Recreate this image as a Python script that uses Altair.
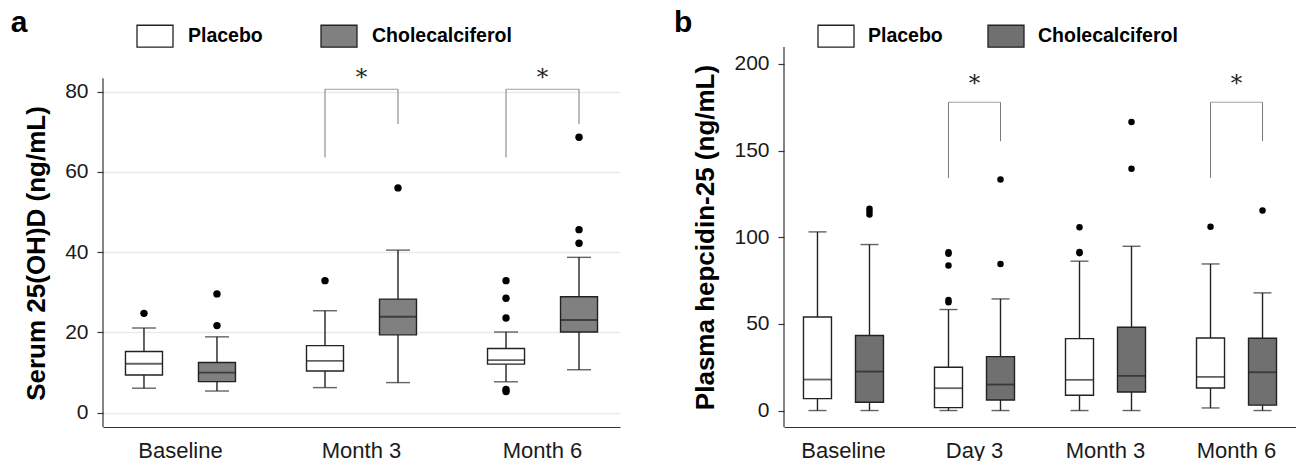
import altair as alt
import pandas as pd

groups = ["Placebo", "Cholecalciferol"]

# ---------------- Panel a : Serum 25(OH)D ----------------
a_times = ["Baseline", "Month 3", "Month 6"]
a_plc_lo = [6.1, 6.25, 7.7]
a_plc_q1 = [9.4, 10.4, 12.1]
a_plc_med = [12.2, 12.9, 13.1]
a_plc_q3 = [15.25, 16.7, 16.0]
a_plc_hi = [21.1, 25.4, 20.1]
a_cho_lo = [5.4, 7.5, 10.7]
a_cho_q1 = [7.75, 19.4, 20.1]
a_cho_med = [10.0, 23.9, 23.1]
a_cho_q3 = [12.5, 28.3, 28.9]
a_cho_hi = [18.9, 40.5, 38.7]
a_plc_out = [[24.75], [32.9], [32.9, 28.5, 23.6, 5.8, 5.3]]
a_cho_out = [[29.6, 21.7], [56.0], [68.6, 45.6, 42.2]]
a_sig = ["Month 3", "Month 6"]
a_sig_top = 80.6
a_sig_left = 63.6
a_sig_right = 71.9
a_star = 83.4
a_axis_span = [-3.56, 83.3]

# ---------------- Panel b : Plasma hepcidin-25 ----------------
b_times = ["Baseline", "Day 3", "Month 3", "Month 6"]
b_plc_lo = [0.0, 0.0, 0.0, 1.5]
b_plc_q1 = [6.9, 1.7, 8.8, 13.0]
b_plc_med = [17.9, 12.9, 17.7, 19.4]
b_plc_q3 = [54.0, 25.0, 41.5, 41.9]
b_plc_hi = [103.1, 58.3, 86.2, 84.6]
b_cho_lo = [0.0, 0.0, 0.0, 0.0]
b_cho_q1 = [4.8, 6.1, 10.7, 3.1]
b_cho_med = [22.5, 15.0, 20.0, 22.1]
b_cho_q3 = [43.3, 31.1, 48.1, 41.7]
b_cho_hi = [95.8, 64.4, 94.8, 67.9]
b_plc_out = [[], [91.3, 90.5, 83.7, 63.8, 62.5], [105.8, 91.5, 90.8], [106.0]]
b_cho_out = [[116.5, 114.8, 113.1], [133.3, 84.6], [166.5, 139.6], [115.4]]
b_sig = ["Day 3", "Month 6"]
b_sig_top = 177.9
b_sig_left = 134.2
b_sig_right = 155.4
b_star = 188.3
b_axis_span = [-9.5, 209.8]

FONT = "Liberation Sans"
INK = "#222222"


def build_panel(letter, times, plc, cho, plc_out, cho_out, sig, sig_top, sig_left,
                sig_right, star, ydomain, axis_span, yticks, ytitle, width, height, fill2,
                box_w, cap_w, step2, pad_in, pad_out, pad2_in, pad2_out,
                grid, leg_x, leg_y, col_pad, lab_off, pt_size, title_dx, title_dy, title_pad,
                extra_axis=None):
    rows = []
    for g, s in zip(groups, [plc, cho]):
        for i, t in enumerate(times):
            rows.append(dict(time=t, group=g, lo=s[0][i], q1=s[1][i], med=s[2][i],
                             q3=s[3][i], hi=s[4][i]))
    box_df = pd.DataFrame(rows)
    orows = []
    for g, outs in zip(groups, [plc_out, cho_out]):
        for t, vals in zip(times, outs):
            for v in vals:
                orows.append(dict(time=t, group=g, v=v))
    out_df = pd.DataFrame(orows)
    leg_rows = []
    for t in sig:
        leg_rows.append(dict(time=t, group=groups[0], y=sig_left, y2=sig_top))
        leg_rows.append(dict(time=t, group=groups[1], y=sig_right, y2=sig_top))
    leg_df = pd.DataFrame(leg_rows)
    top_df = pd.DataFrame(dict(time=sig, y=[sig_top] * len(sig), star=[star] * len(sig),
                               s=["*"] * len(sig)))
    span_df = pd.DataFrame(dict(lo=[axis_span[0]], hi=[axis_span[1]]))

    xscale = alt.Scale(domain=times, paddingInner=pad_in, paddingOuter=pad_out)
    xoff = alt.XOffset("group:N", sort=groups,
                       scale=alt.Scale(domain=groups, paddingInner=pad2_in, paddingOuter=pad2_out))
    xenc = alt.X("time:N", sort=times, scale=xscale, title=None,
                 axis=alt.Axis(labelFont=FONT, labelFontSize=22, labelColor="#1a1a1a",
                               labelAngle=0, ticks=False, labelPadding=13,
                               domainColor="#333333", domainWidth=1.2, grid=False))
    yscale = alt.Scale(domain=ydomain, nice=False, zero=False)
    axis_kw = dict(values=yticks, labelFont=FONT, labelFontSize=21, labelColor="#1a1a1a",
                   tickColor="#333333", tickSize=6, tickWidth=1.2, labelPadding=9,
                   domain=False, grid=grid,
                   gridColor="#ebebeb", gridWidth=1.5,
                   title=ytitle, titleFont=FONT, titleFontSize=26, titleFontWeight="bold",
                   titleColor="black", titlePadding=title_pad)
    if extra_axis:
        axis_kw.update(extra_axis)
    yaxis = alt.Axis(**axis_kw)

    base = alt.Chart(box_df).encode(x=xenc, xOffset=xoff)
    whisk_lo = base.mark_rule(color=INK, strokeWidth=1.4).encode(
        y=alt.Y("lo:Q", scale=yscale, axis=yaxis), y2="q1:Q")
    whisk_hi = base.mark_rule(color=INK, strokeWidth=1.4).encode(y="q3:Q", y2="hi:Q")
    cap_lo = base.mark_tick(color=INK, thickness=1.4, size=cap_w, orient="horizontal").encode(y="lo:Q")
    cap_hi = base.mark_tick(color=INK, thickness=1.4, size=cap_w, orient="horizontal").encode(y="hi:Q")
    boxes = base.mark_bar(size=box_w, stroke=INK, strokeWidth=1.4).encode(
        y="q1:Q", y2="q3:Q",
        fill=alt.Fill("group:N", sort=groups,
                      scale=alt.Scale(domain=groups, range=["white", fill2]),
                      legend=alt.Legend(orient="none", legendX=leg_x, legendY=leg_y,
                                        direction="horizontal", title=None,
                                        symbolType="M-1,-0.61L1,-0.61L1,0.61L-1,0.61Z",
                                        symbolSize=1296, symbolStrokeColor=INK,
                                        symbolStrokeWidth=1.3, symbolOpacity=1,
                                        labelFont=FONT, labelFontSize=19.5, labelFontWeight="bold",
                                        labelColor="black", labelOffset=lab_off,
                                        columnPadding=col_pad, labelLimit=300)))
    meds = base.mark_tick(color=INK, thickness=1.8, size=box_w, orient="horizontal").encode(y="med:Q")
    outs = alt.Chart(out_df).mark_circle(color="black", size=pt_size, opacity=1).encode(
        x=alt.X("time:N", sort=times), xOffset=alt.XOffset("group:N", sort=groups), y="v:Q")
    legs = alt.Chart(leg_df).mark_rule(color="#7a7a7a", strokeWidth=1).encode(
        x=alt.X("time:N", sort=times), xOffset=alt.XOffset("group:N", sort=groups),
        y="y:Q", y2="y2:Q")
    tops = alt.Chart(top_df).mark_tick(color="#7a7a7a", thickness=1, size=step2,
                                       orient="horizontal").encode(
        x=alt.X("time:N", sort=times), y="y:Q")
    stars = alt.Chart(top_df).mark_text(font="DejaVu Serif", fontSize=23, color=INK,
                                        baseline="middle").encode(
        x=alt.X("time:N", sort=times), y="star:Q", text="s:N")
    yline = alt.Chart(span_df).mark_rule(color="#333333", strokeWidth=1.2).encode(
        x=alt.value(0), y="lo:Q", y2="hi:Q")

    return alt.layer(whisk_lo, whisk_hi, cap_lo, cap_hi, boxes, meds, outs, legs, tops,
                     stars, yline).properties(
        width=width, height=height,
        title=alt.TitleParams(letter, anchor="start", font=FONT, fontSize=30, fontWeight="bold",
                              color="black", dx=title_dx, dy=title_dy, offset=0))


panel_a = build_panel("a", a_times,
                      [a_plc_lo, a_plc_q1, a_plc_med, a_plc_q3, a_plc_hi],
                      [a_cho_lo, a_cho_q1, a_cho_med, a_cho_q3, a_cho_hi],
                      a_plc_out, a_cho_out, a_sig, a_sig_top, a_sig_left, a_sig_right, a_star,
                      [-3.56, 91.1], a_axis_span, [0, 20, 40, 60, 80], "Serum 25(OH)D (ng/mL)",
                      517, 380, "#808080", 37, 24, 73, 0.2, 0.028, 0.1, 0.042,
                      True, 33, -30, 55, 14, 55, -13, 21, 15,
                      extra_axis={"titleY": 206})

panel_b = build_panel("b", b_times,
                      [b_plc_lo, b_plc_q1, b_plc_med, b_plc_q3, b_plc_hi],
                      [b_cho_lo, b_cho_q1, b_cho_med, b_cho_q3, b_cho_hi],
                      b_plc_out, b_cho_out, b_sig, b_sig_top, b_sig_left, b_sig_right, b_star,
                      [-9.5, 209.8], b_axis_span, [0, 50, 100, 150, 200],
                      "Plasma hepcidin-25 (ng/mL)",
                      512, 380, "#707070", 28, 18, 52, 0.2, 0.054, 0.1, 0.0577,
                      False, 33, -30, 42, 13, 42, -19, 21, 15)

chart = alt.hconcat(panel_a, panel_b, spacing=53).resolve_scale(
    fill="independent", y="independent", x="independent", xOffset="independent"
).resolve_legend(fill="independent").properties(
    padding={"left": 2, "top": 0, "right": 0, "bottom": 0}
).configure(background="white").configure_view(stroke=None)

chart.save("out.html", embed_options={"renderer": "svg", "actions": False})
